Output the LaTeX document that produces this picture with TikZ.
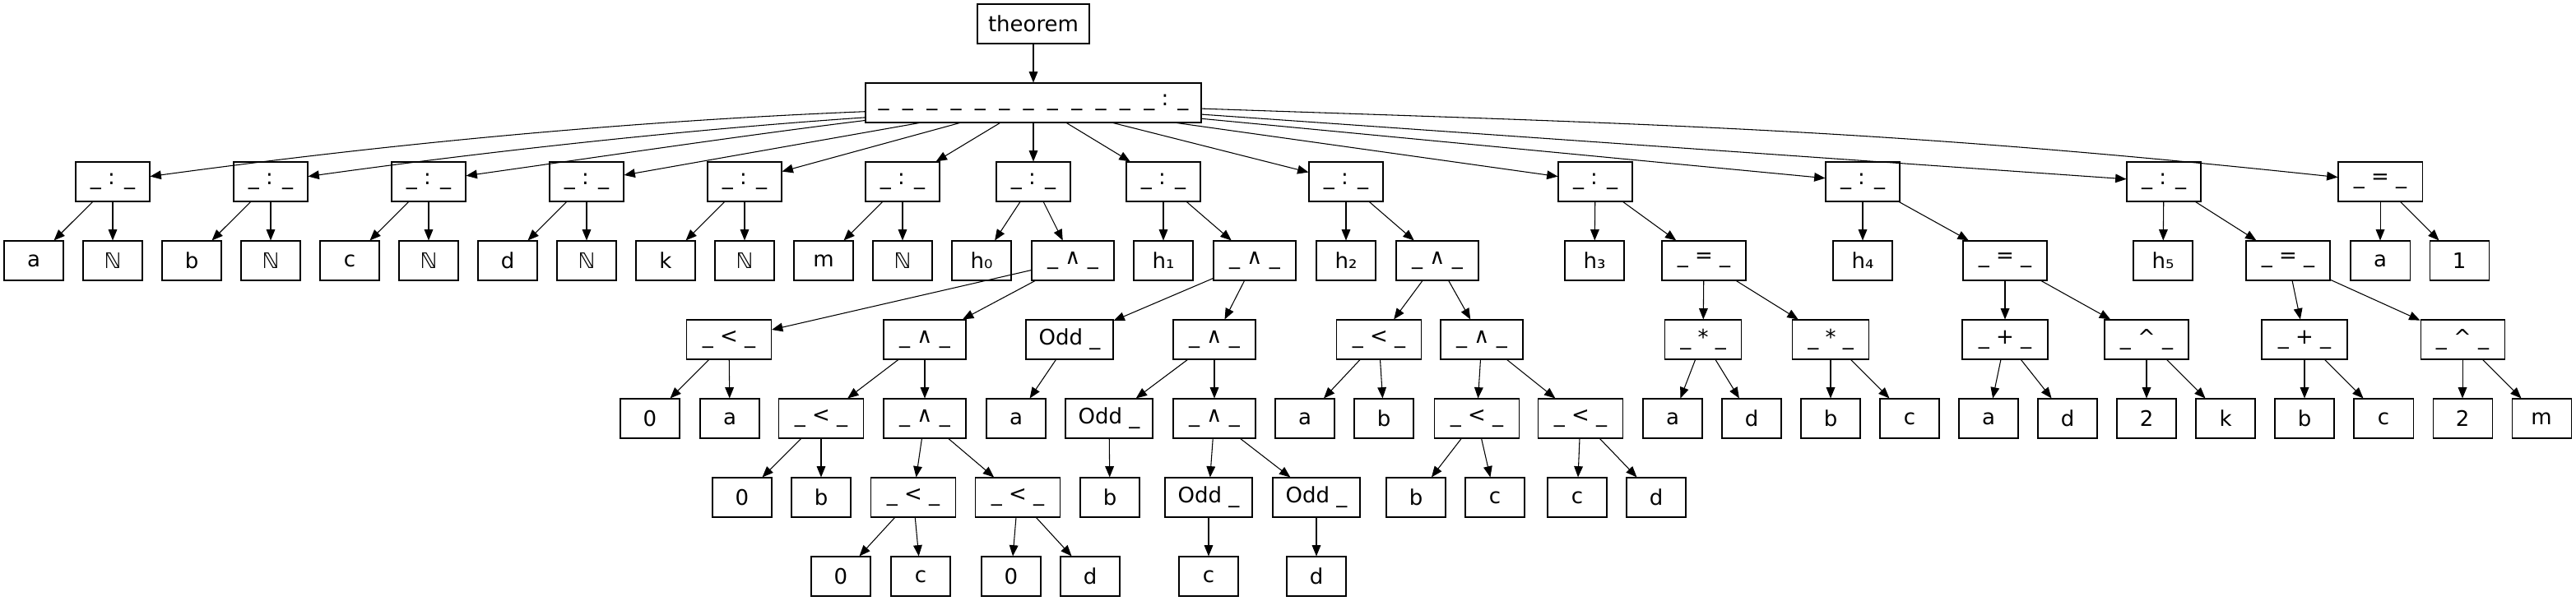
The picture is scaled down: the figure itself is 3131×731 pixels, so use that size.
\documentclass[tikz,border=0pt]{standalone}
\usepackage{fontspec}
\setmainfont{DejaVu Sans}
\usetikzlibrary{arrows.meta}
\newcommand{\rootlabel}{\_\hspace{12.25pt}\_\hspace{12.25pt}\_\hspace{12.25pt}\_\hspace{12.25pt}\_\hspace{12.25pt}\_\hspace{12.25pt}\_\hspace{12.25pt}\_\hspace{12.25pt}\_\hspace{12.25pt}\_\hspace{12.25pt}\_\hspace{12.25pt}\_ : \_}
\begin{document}
\begin{tikzpicture}[x=0.75pt,y=0.75pt,
  box/.style={draw, line width=0.8pt, minimum height=36pt, minimum width=54pt, inner sep=0pt,
    font=\fontsize{19.5pt}{23pt}\selectfont},
  mw/.style={minimum width={#1*0.75pt}},
  arr/.style={-{Triangle[length=10pt,width=8pt]}, line width=0.8pt}]
\useasboundingbox (0,0) rectangle (3131,-731);
% level 0/1
\node[box,mw=136] (thm) at (1256,-29) {theorem};
\node[box,mw=408] (root) at (1256,-125) {\rootlabel};
% level 2
\node[box,mw=90] (n1) at (137,-221) {\_ : \_};
\node[box,mw=90] (n2) at (329,-221) {\_ : \_};
\node[box,mw=90] (n3) at (521,-221) {\_ : \_};
\node[box,mw=90] (n4) at (713,-221) {\_ : \_};
\node[box,mw=90] (n5) at (905,-221) {\_ : \_};
\node[box,mw=90] (n6) at (1097,-221) {\_ : \_};
\node[box,mw=90] (n7) at (1256,-221) {\_ : \_};
\node[box,mw=90] (n8) at (1414,-221) {\_ : \_};
\node[box,mw=90] (n9) at (1636,-221) {\_ : \_};
\node[box,mw=90] (n10) at (1939,-221) {\_ : \_};
\node[box,mw=90] (n11) at (2264,-221) {\_ : \_};
\node[box,mw=90] (n12) at (2630,-221) {\_ : \_};
\node[box,mw=102] (n13) at (2893,-221) {\_ = \_};
% level 3
\node[box] (la) at (41,-317) {a};
\node[box] (lN1) at (137,-317) {ℕ};
\node[box] (lb) at (233,-317) {b};
\node[box] (lN2) at (329,-317) {ℕ};
\node[box] (lc) at (425,-317) {c};
\node[box] (lN3) at (521,-317) {ℕ};
\node[box] (ld) at (617,-317) {d};
\node[box] (lN4) at (713,-317) {ℕ};
\node[box] (lk) at (809,-317) {k};
\node[box] (lN5) at (905,-317) {ℕ};
\node[box] (lm) at (1001,-317) {m};
\node[box] (lN6) at (1097,-317) {ℕ};
\node[box] (h0) at (1193,-317) {h₀};
\node[box,mw=100] (and1) at (1304,-317) {\_ ∧ \_};
\node[box] (h1) at (1414,-317) {h₁};
\node[box,mw=100] (and2) at (1525,-317) {\_ ∧ \_};
\node[box] (h2) at (1636,-317) {h₂};
\node[box,mw=100] (and3) at (1747,-317) {\_ ∧ \_};
\node[box] (h3) at (1938,-317) {h₃};
\node[box,mw=102] (eq1) at (2071,-317) {\_ = \_};
\node[box] (h4) at (2264,-317) {h₄};
\node[box,mw=102] (eq2) at (2437,-317) {\_ = \_};
\node[box] (h5) at (2629,-317) {h₅};
\node[box,mw=102] (eq3) at (2781,-317) {\_ = \_};
\node[box] (ra) at (2893,-317) {a};
\node[box] (r1) at (2989,-317) {1};
% level 4
\node[box,mw=103] (lt1) at (886,-413) {\_ < \_};
\node[box,mw=100] (and1b) at (1124,-413) {\_ ∧ \_};
\node[box,mw=106] (odda) at (1300,-413) {Odd \_};
\node[box,mw=100] (and2b) at (1476,-413) {\_ ∧ \_};
\node[box,mw=103] (lt7) at (1676,-413) {\_ < \_};
\node[box,mw=100] (and3b) at (1801,-413) {\_ ∧ \_};
\node[box,mw=93] (mul1) at (2070,-413) {\_ * \_};
\node[box,mw=93] (mul2) at (2225,-413) {\_ * \_};
\node[box,mw=104] (plus1) at (2437,-413) {\_ + \_};
\node[box,mw=102] (pow1) at (2609,-413) {\_ \textasciicircum{} \_};
\node[box,mw=104] (plus2) at (2801,-413) {\_ + \_};
\node[box,mw=102] (pow2) at (2993,-413) {\_ \textasciicircum{} \_};
% level 5
\node[box] (z1) at (790,-509) {0};
\node[box] (a1) at (887,-509) {a};
\node[box,mw=103] (lt2) at (998,-509) {\_ < \_};
\node[box,mw=100] (and1c) at (1124,-509) {\_ ∧ \_};
\node[box] (a2) at (1235,-509) {a};
\node[box,mw=106] (oddb) at (1348,-509) {Odd \_};
\node[box,mw=100] (and2c) at (1476,-509) {\_ ∧ \_};
\node[box] (a3) at (1586,-509) {a};
\node[box] (b3) at (1682,-509) {b};
\node[box,mw=103] (lt3) at (1795,-509) {\_ < \_};
\node[box,mw=103] (lt4) at (1921,-509) {\_ < \_};
\node[box] (a4) at (2033,-509) {a};
\node[box] (d4) at (2129,-509) {d};
\node[box] (b4) at (2225,-509) {b};
\node[box] (c4) at (2321,-509) {c};
\node[box] (a5) at (2417,-509) {a};
\node[box] (d5) at (2513,-509) {d};
\node[box] (t1) at (2609,-509) {2};
\node[box] (k1) at (2705,-509) {k};
\node[box] (b5) at (2801,-509) {b};
\node[box] (c5) at (2897,-509) {c};
\node[box] (t2) at (2993,-509) {2};
\node[box] (m1) at (3089,-509) {m};
% level 6
\node[box] (z2) at (902,-605) {0};
\node[box] (b1) at (998,-605) {b};
\node[box,mw=103] (lt5) at (1110,-605) {\_ < \_};
\node[box,mw=103] (lt6) at (1237,-605) {\_ < \_};
\node[box] (b2) at (1349,-605) {b};
\node[box,mw=106] (odd1) at (1469,-605) {Odd \_};
\node[box,mw=106] (odd2) at (1600,-605) {Odd \_};
\node[box] (b6) at (1721,-605) {b};
\node[box] (c6) at (1817,-605) {c};
\node[box] (c7) at (1917,-605) {c};
\node[box] (d6) at (2013,-605) {d};
% level 7
\node[box] (z3) at (1022,-701) {0};
\node[box] (c1) at (1119,-701) {c};
\node[box] (z4) at (1229,-701) {0};
\node[box] (d1) at (1325,-701) {d};
\node[box] (c2) at (1469,-701) {c};
\node[box] (d2) at (1600,-701) {d};
% edges
\draw[arr] (thm) -- (root);
\draw[arr] (root.183) .. controls (700,-150) and (400,-185) .. (n1.8);
\draw[arr] (root.185) .. controls (800,-160) and (550,-190) .. (n2.8);
\draw[arr] (root.186) .. controls (900,-165) and (700,-195) .. (n3.9);
\foreach \t in {n4,n5,n6,n7,n8,n9,n10,n11,n12} \draw[arr] (root) -- (\t);
\draw[arr] (root.-2) .. controls (2010,-151) and (2292,-157) .. (n13.174);
\foreach \p/\c in {n1/la,n1/lN1,n2/lb,n2/lN2,n3/lc,n3/lN3,n4/ld,n4/lN4,n5/lk,n5/lN5,n6/lm,n6/lN6,
  n7/h0,n7/and1,n8/h1,n8/and2,n9/h2,n9/and3,n10/h3,n10/eq1,n11/h4,n11/eq2,n12/h5,n12/eq3,n13/ra,n13/r1,
  and1/lt1,and1/and1b,and2/odda,and2/and2b,and3/lt7,and3/and3b,eq1/mul1,eq1/mul2,eq2/plus1,eq2/pow1,eq3/plus2,eq3/pow2,
  lt1/z1,lt1/a1,and1b/lt2,and1b/and1c,odda/a2,and2b/oddb,and2b/and2c,lt7/a3,lt7/b3,and3b/lt3,and3b/lt4,
  mul1/a4,mul1/d4,mul2/b4,mul2/c4,plus1/a5,plus1/d5,pow1/t1,pow1/k1,plus2/b5,plus2/c5,pow2/t2,pow2/m1,
  lt2/z2,lt2/b1,and1c/lt5,and1c/lt6,oddb/b2,and2c/odd1,and2c/odd2,lt3/b6,lt3/c6,lt4/c7,lt4/d6,
  lt5/z3,lt5/c1,lt6/z4,lt6/d1,odd1/c2,odd2/d2}
  \draw[arr] (\p) -- (\c);
\end{tikzpicture}
\end{document}
